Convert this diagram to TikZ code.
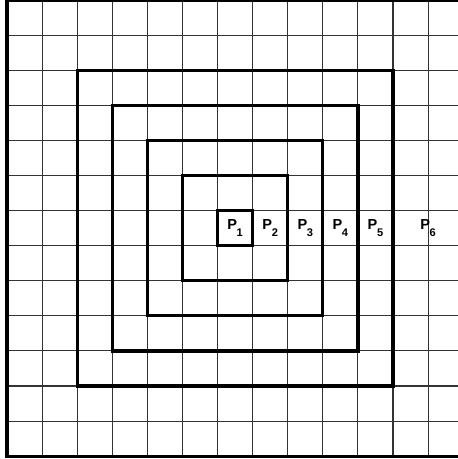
\documentclass[tikz,border=0pt]{standalone}
\usepackage{fontspec}
\setmainfont{Liberation Sans}
\newcommand{\plab}[1]{P\kern-0.3pt\raisebox{-6pt}{\fontsize{9}{10}\selectfont #1}}

\begin{document}
\begin{tikzpicture}[x=1cm,y=1cm,
  gridline/.style={draw=black!80,line width=0.9pt},
  ring/.style={draw=black,line width=2.6pt},
  every node/.style={font=\fontsize{11.8}{13}\selectfont\bfseries,inner sep=0pt}]
\clip (-0.2,-0.08) rectangle (12.85,13.0);
\draw[gridline] (0,0) grid (13,13);
\draw[ring] (0,0) rectangle (13,13);
\foreach \k in {0,...,4}
  \draw[ring] (6-\k,6-\k) rectangle (7+\k,7+\k);
\node (p1) at (6.5,6.5) {\plab{1}};
\foreach \i in {2,...,5}
  \node (p\i) at (\i+5.5,6.5) {\plab{\i}};
\node (p6) at (12,6.5) {\plab{6}};
\end{tikzpicture}
\end{document}
